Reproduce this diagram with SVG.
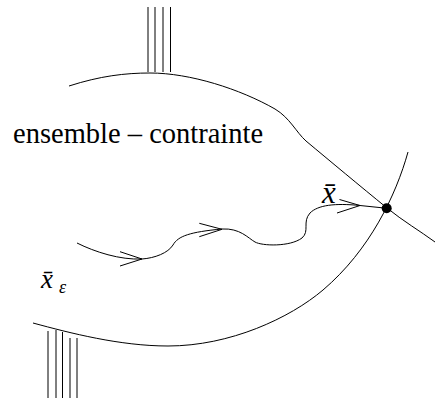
<svg xmlns="http://www.w3.org/2000/svg" width="435" height="398" viewBox="0 0 435 398">
<style>
.ln{fill:none;stroke:#000;stroke-width:1}
.it{font-style:italic}
</style>
<rect width="435" height="398" fill="#fff"/>
<g id="boundary-top">
<path class="ln" d="M69,86 C100,76 125,73 150,73 C190,73 240,89 275,109 C290,118 296,132 306,141 C330,161 360,186 387,208 C403,221 420,231 435,242"/>
</g>
<g id="boundary-bottom">
<path class="ln" d="M408,152 C396,195 370,250 323,290 C290,318 230,346 168,346 C120,346 70,333 33,323"/>
</g>
<g id="hatch-top">
<path class="ln" d="M148,7 V72 M155,7 V72 M163,7 V72 M170.5,7 V72"/>
</g>
<g id="hatch-bottom">
<path class="ln" d="M48,331 V398 M56,330 V398 M62.5,332 V398 M70,338 V398 M77,338 V398"/>
</g>
<g id="connectors">
<path class="ln" d="M77,243 C95,252 120,260 142,259 C155,258 168,253 173,245 C178,236 190,232 222,229 C240,228 248,238 255,242 C262,246 290,247 302,238 C310,231 302,222 310,213 C318,205 335,203 360,205.5 L387,208.3"/>
<path class="ln" d="M120,251.7 L142,259 L120,266"/>
<path class="ln" d="M199.3,223.3 L222,229.3 L199.3,236.7"/>
<path class="ln" d="M339.5,199.5 L360,205.5 L337,213"/>
</g>
<g id="point-xbar" font-family="Liberation Serif, DejaVu Serif, serif">
<circle cx="386.7" cy="208.3" r="5" fill="#000"/>
<text class="it" x="322" y="203" font-size="31">x̄</text>
</g>
<g id="label-ensemble" font-family="Liberation Serif, DejaVu Serif, serif">
<text x="13" y="143" font-size="28.5">ensemble – contrainte</text>
</g>
<g id="label-xeps" font-family="Liberation Serif, DejaVu Serif, serif">
<text class="it" x="41" y="288" font-size="27">x̄</text>
<text class="it" x="59" y="293" font-size="18">ε</text>
</g>
</svg>
